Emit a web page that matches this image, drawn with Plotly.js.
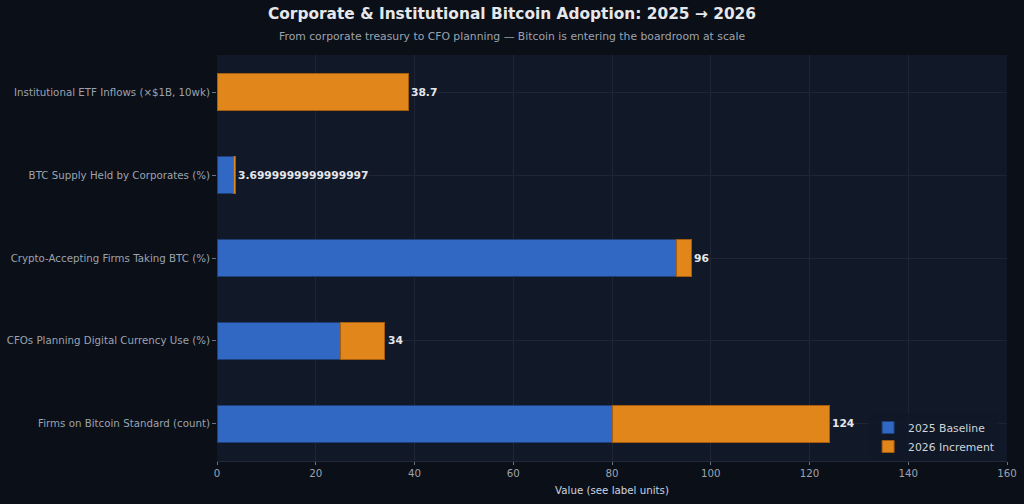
<!DOCTYPE html>
<html>
<head>
<meta charset="utf-8">
<script src="https://cdn.plot.ly/plotly-3.0.1.min.js"></script>
<style>
  html, body { margin: 0; padding: 0; background: #0b0f17; }
  #chart { width: 1024px; height: 504px; }
</style>
</head>
<body>
<div id="chart"></div>
<script>
// Metric names, bottom to top
const categories = [
  "Firms on Bitcoin Standard (count)",
  "CFOs Planning Digital Currency Use (%)",
  "Crypto-Accepting Firms Taking BTC (%)",
  "BTC Supply Held by Corporates (%)",
  "Institutional ETF Inflows (×$1B, 10wk)"
];
// 2025 starting level per metric
const baseline2025 = [80, 25, 93, 3.4, 0];
// Growth added on top in 2026
const increment2026 = [44, 9, 3, 0.3, 38.7];
const xTicks = [0, 20, 40, 60, 80, 100, 120, 140, 160];

const totals = baseline2025.map((b, i) => b + increment2026[i]);

const FONT = "DejaVu Sans, sans-serif";
const MARGIN = { l: 217, r: 17, t: 55, b: 43 };
const PLOT_W = 1024 - MARGIN.l - MARGIN.r;
const PLOT_H = 504 - MARGIN.t - MARGIN.b;

const traces = [
  {
    type: "bar",
    orientation: "h",
    name: "2025 Baseline",
    y: categories,
    x: baseline2025,
    width: 0.45,
    marker: { color: "#3068c4", line: { color: "#1e3f78", width: 1 } },
    hoverinfo: "skip"
  },
  {
    type: "bar",
    orientation: "h",
    name: "2026 Increment",
    y: categories,
    x: increment2026,
    width: 0.45,
    marker: { color: "#e0861a", line: { color: "#a35c10", width: 1 } },
    hoverinfo: "skip"
  }
];

// Total value written just past the end of each stacked bar
const totalLabels = totals.map((t, i) => ({
  x: t,
  y: categories[i],
  xref: "x",
  yref: "y",
  text: String(t),
  showarrow: false,
  xanchor: "left",
  yanchor: "middle",
  xshift: 1,
  font: { family: FONT, size: 10.7, color: "#e5e7eb", weight: "bold" }
}));

// Subtitle, centred on the page width, just below the main title
const subtitle = {
  text: "From corporate treasury to CFO planning — Bitcoin is entering the boardroom at scale",
  xref: "paper",
  yref: "paper",
  x: (512 - MARGIN.l) / PLOT_W,
  y: 1 + (MARGIN.t - 37) / PLOT_H,
  xanchor: "center",
  yanchor: "middle",
  showarrow: false,
  font: { family: FONT, size: 10.8, color: "#9ca3af" }
};

const layout = {
  width: 1024,
  height: 504,
  paper_bgcolor: "#0b0f17",
  plot_bgcolor: "#111827",
  font: { family: FONT, size: 10.25, color: "#9ca3af" },
  margin: MARGIN,
  barmode: "stack",
  showlegend: true,
  title: {
    text: "<b>Corporate & Institutional Bitcoin Adoption: 2025 → 2026</b>",
    font: { family: FONT, size: 15.4, color: "#e5e7eb" },
    x: 0.5,
    xanchor: "center",
    xref: "container",
    y: 1 - 14 / 504,
    yref: "container",
    yanchor: "middle"
  },
  xaxis: {
    range: [0, 160],
    tickvals: xTicks,
    ticktext: xTicks.map(String),
    showgrid: true,
    gridcolor: "#1e2636",
    zeroline: false,
    showline: true,
    linecolor: "#1f2937",
    ticks: "outside",
    ticklen: 3,
    tickcolor: "#6b7280",
    tickfont: { family: FONT, size: 10.25, color: "#9ca3af" },
    title: {
      text: "Value (see label units)",
      font: { family: FONT, size: 10.25, color: "#cbd5e1" },
      standoff: 8
    }
  },
  yaxis: {
    type: "category",
    range: [-0.45, 4.45],
    showgrid: true,
    gridcolor: "#1e2636",
    zeroline: false,
    showline: false,
    ticks: "outside",
    ticklen: 4,
    tickcolor: "#6b7280",
    tickfont: { family: FONT, size: 10.25, color: "#9ca3af" }
  },
  legend: {
    x: 0.99,
    xanchor: "right",
    y: 0.0,
    yanchor: "bottom",
    traceorder: "normal",
    bgcolor: "rgba(17,24,39,0.85)",
    borderwidth: 0,
    font: { family: FONT, size: 10.8, color: "#d1d5db" }
  },
  annotations: [subtitle].concat(totalLabels)
};

Plotly.newPlot("chart", traces, layout, { displayModeBar: false, staticPlot: true });
</script>
</body>
</html>
